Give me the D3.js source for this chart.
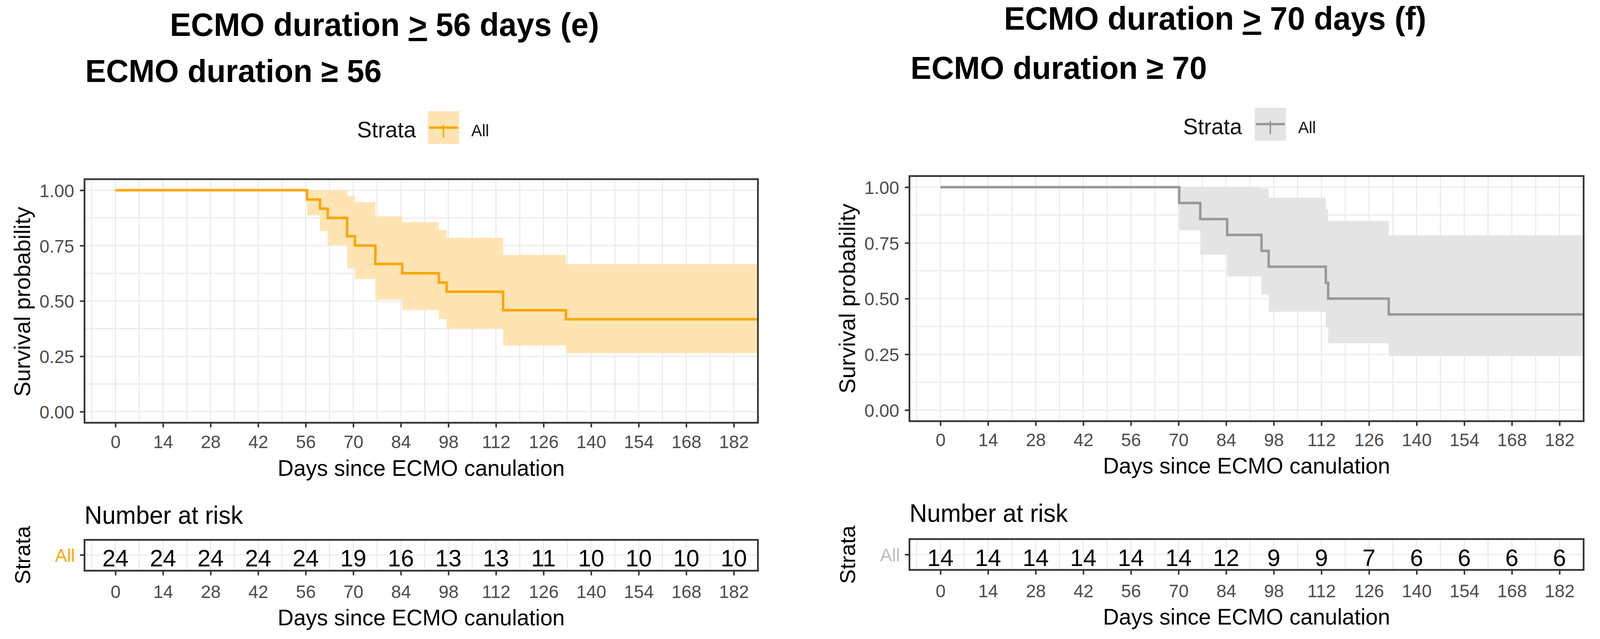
<!DOCTYPE html>
<html>
<head>
<meta charset="utf-8">
<script src="https://cdn.jsdelivr.net/npm/d3@7"></script>
<style>
  html, body { margin: 0; padding: 0; background: #fff; overflow: hidden; }
  #chart { display: block; width: 100vw; height: 100vh; }
  text { font-family: "Liberation Sans", Arial, sans-serif; }
</style>
</head>
<body>
<svg id="chart" viewBox="0 0 4203 1637" preserveAspectRatio="none"></svg>
<script>
// x ticks (days) and y ticks (survival)
const dayTicks = [0, 14, 28, 42, 56, 70, 84, 98, 112, 126, 140, 154, 168, 182];
const survTicks = [0, 0.25, 0.5, 0.75, 1];

// (e) ECMO duration >= 56 : event times, KM estimate, 95% CI
const eTimes = [56.4, 60.2, 62.5, 68.2, 70.5, 76.5, 84.4, 95.2, 97.5, 114.1, 132.6];
const eSurv  = [0.958, 0.917, 0.875, 0.792, 0.750, 0.667, 0.625, 0.583, 0.542, 0.458, 0.417];
const eUpper = [1, 1, 1, 0.974, 0.946, 0.882, 0.856, 0.821, 0.785, 0.708, 0.667];
const eLower = [0.887, 0.816, 0.752, 0.647, 0.599, 0.506, 0.459, 0.418, 0.375, 0.299, 0.264];
const eRisk  = [24, 24, 24, 24, 24, 19, 16, 13, 13, 11, 10, 10, 10, 10];

// (f) ECMO duration >= 70
const fTimes = [70.2, 76.4, 84.3, 94.4, 96.5, 113.3, 114.0, 131.8];
const fSurv  = [0.929, 0.857, 0.786, 0.714, 0.643, 0.571, 0.500, 0.429];
const fUpper = [1, 1, 1, 0.995, 0.953, 0.900, 0.848, 0.784];
const fLower = [0.807, 0.697, 0.600, 0.519, 0.441, 0.370, 0.300, 0.242];
const fRisk  = [14, 14, 14, 14, 14, 14, 12, 9, 9, 7, 6, 6, 6, 6];

const svg = d3.select("#chart");

function drawChart(c, d) {
  const g = svg.append("g");
  const x = d3.scaleLinear().domain([-9.1, 189.1]).range([c.left, c.right]);
  const y = d3.scaleLinear().domain([-0.05, 1.05]).range([c.bottom, c.top]);

  // minor breaks halfway between majors, like ggplot
  const minorX = [-7].concat(dayTicks.map(t => t + 7));
  const minorY = [0.125, 0.375, 0.625, 0.875];

  // titles
  const t = g.append("text").attr("x", c.titleX).attr("y", c.titleY)
    .attr("text-anchor", "middle").attr("font-size", 83).attr("font-weight", "bold");
  t.append("tspan").text("ECMO duration ");
  t.append("tspan").attr("text-decoration", "underline").text(">");
  t.append("tspan").text(" " + c.cut + " days (" + c.tag + ")");

  g.append("text").attr("x", c.subX).attr("y", c.subY)
    .attr("font-size", 82).attr("font-weight", "bold")
    .text("ECMO duration \u2265 " + c.cut);

  // legend
  g.append("text").attr("x", c.legX).attr("y", c.legY).attr("font-size", 58).attr("fill", "#111").text("Strata");
  g.append("rect").attr("x", c.keyX).attr("y", c.keyY).attr("width", 82).attr("height", 84).attr("fill", c.band);
  g.append("line").attr("x1", c.keyX + 3).attr("x2", c.keyX + 79)
    .attr("y1", c.keyY + 42).attr("y2", c.keyY + 42).attr("stroke", c.color).attr("stroke-width", 6);
  g.append("line").attr("x1", c.keyX + 41).attr("x2", c.keyX + 41)
    .attr("y1", c.keyY + 34).attr("y2", c.keyY + 68).attr("stroke", c.color).attr("stroke-width", 4);
  g.append("text").attr("x", c.keyX + 114).attr("y", c.legY - 3).attr("font-size", 42).attr("fill", "#111").text("All");

  // grid
  const grid = g.append("g").attr("stroke", "#ebebeb").attr("stroke-width", 3);
  grid.selectAll(".vx").data(minorX.concat(dayTicks)).join("line")
    .attr("x1", v => x(v)).attr("x2", v => x(v)).attr("y1", c.top).attr("y2", c.bottom);
  grid.selectAll(".hy").data(minorY.concat(survTicks)).join("line")
    .attr("x1", c.left).attr("x2", c.right).attr("y1", v => y(v)).attr("y2", v => y(v));

  // KM step data
  const pts = [{ t: 0, s: 1, u: 1, l: 1 }];
  d.times.forEach((tm, i) => pts.push({ t: tm, s: d.surv[i], u: d.upper[i], l: d.lower[i] }));
  const last = pts[pts.length - 1];
  pts.push({ t: 189.1, s: last.s, u: last.u, l: last.l });

  const clipId = "clip" + c.tag;
  g.append("clipPath").attr("id", clipId).append("rect")
    .attr("x", c.left).attr("y", c.top).attr("width", c.right - c.left).attr("height", c.bottom - c.top);
  const plot = g.append("g").attr("clip-path", "url(#" + clipId + ")");

  plot.append("path").datum(pts)
    .attr("fill", c.band)
    .attr("d", d3.area().curve(d3.curveStepAfter).x(p => x(p.t)).y0(p => y(p.l)).y1(p => y(p.u)));
  plot.append("path").datum(pts)
    .attr("fill", "none").attr("stroke", c.color).attr("stroke-width", 6.5)
    .attr("d", d3.line().curve(d3.curveStepAfter).x(p => x(p.t)).y(p => y(p.s)));

  g.append("rect").attr("x", c.left).attr("y", c.top)
    .attr("width", c.right - c.left).attr("height", c.bottom - c.top)
    .attr("fill", "none").attr("stroke", "#333").attr("stroke-width", 4.5);

  // axes
  const ya = g.append("g").attr("transform", "translate(" + c.left + ",0)")
    .call(d3.axisLeft(y).tickValues(survTicks).tickFormat(d3.format(".2f")).tickSize(12).tickPadding(15));
  styleAxis(ya);
  ya.selectAll("text").attr("dy", "0.36em");

  const xa = g.append("g").attr("transform", "translate(0," + c.bottom + ")")
    .call(d3.axisBottom(x).tickValues(dayTicks).tickSize(12));
  styleAxis(xa);
  xa.selectAll("text").attr("dy", null).attr("y", c.xTickY - c.bottom);

  g.append("text").attr("x", (c.left + c.right) / 2).attr("y", c.xTitleY)
    .attr("text-anchor", "middle").attr("font-size", 58).text("Days since ECMO canulation");
  g.append("text").attr("transform", "translate(" + c.yTitleX + "," + c.yTitleY + ") rotate(-90)")
    .attr("text-anchor", "middle").attr("font-size", 58).text("Survival probability");

  // number at risk table
  g.append("text").attr("x", c.left).attr("y", c.nrY).attr("font-size", 64).text("Number at risk");

  const rg = g.append("g").attr("stroke", "#ebebeb").attr("stroke-width", 3);
  rg.selectAll("line.v").data(minorX.concat(dayTicks)).join("line")
    .attr("x1", v => x(v)).attr("x2", v => x(v)).attr("y1", c.rTop).attr("y2", c.rBot);
  rg.append("line").attr("x1", c.left).attr("x2", c.right).attr("y1", c.rMid).attr("y2", c.rMid);

  g.selectAll("text.risk").data(d.risk).join("text")
    .attr("x", (v, i) => x(dayTicks[i])).attr("y", c.rNumY)
    .attr("text-anchor", "middle").attr("font-size", 62).text(v => v);

  g.append("rect").attr("x", c.left).attr("y", c.rTop)
    .attr("width", c.right - c.left).attr("height", c.rBot - c.rTop)
    .attr("fill", "none").attr("stroke", "#333").attr("stroke-width", 4.5);

  g.append("line").attr("x1", c.left - 12).attr("x2", c.left).attr("y1", c.rMid).attr("y2", c.rMid)
    .attr("stroke", "#333").attr("stroke-width", 4);
  g.append("text").attr("x", c.left - 25).attr("y", c.rMid + 17)
    .attr("text-anchor", "end").attr("font-size", 47).attr("fill", c.label).text("All");

  const ra = g.append("g").attr("transform", "translate(0," + c.rBot + ")")
    .call(d3.axisBottom(x).tickValues(dayTicks).tickSize(12));
  styleAxis(ra);
  ra.selectAll("text").attr("dy", null).attr("y", c.rTickY - c.rBot);

  g.append("text").attr("x", (c.left + c.right) / 2).attr("y", c.rTitleY)
    .attr("text-anchor", "middle").attr("font-size", 58).text("Days since ECMO canulation");
  g.append("text").attr("transform", "translate(" + c.yTitleX + "," + c.rMid + ") rotate(-90)")
    .attr("text-anchor", "middle").attr("font-size", 56).text("Strata");
}

function styleAxis(a) {
  a.select(".domain").remove();
  a.attr("font-size", 47).attr("font-family", "Liberation Sans, Arial, sans-serif");
  a.selectAll("line").attr("stroke", "#333").attr("stroke-width", 4);
  a.selectAll("text").attr("fill", "#4d4d4d");
}

drawChart({
  tag: "e", cut: 56, color: "#ffa500", band: "#ffe4b3", label: "#ffa500",
  left: 222, right: 1991, top: 459, bottom: 1083,
  titleX: 1010, titleY: 92, subX: 224, subY: 210,
  legX: 938, legY: 352, keyX: 1124, keyY: 285,
  xTickY: 1148, xTitleY: 1219, yTitleX: 79, yTitleY: 773,
  nrY: 1342, rTop: 1383, rBot: 1462, rMid: 1422, rNumY: 1451, rTickY: 1532, rTitleY: 1602
}, { times: eTimes, surv: eSurv, upper: eUpper, lower: eLower, risk: eRisk });

drawChart({
  tag: "f", cut: 70, color: "#999999", band: "#e4e4e4", label: "#bdbdbd",
  left: 2389, right: 4160, top: 451, bottom: 1079,
  titleX: 3192, titleY: 76, subX: 2392, subY: 202,
  legX: 3108, legY: 344, keyX: 3296, keyY: 276,
  xTickY: 1143, xTitleY: 1213, yTitleX: 2246, yTitleY: 765,
  nrY: 1337, rTop: 1381, rBot: 1460, rMid: 1421, rNumY: 1450, rTickY: 1530, rTitleY: 1600
}, { times: fTimes, surv: fSurv, upper: fUpper, lower: fLower, risk: fRisk });
</script>
</body>
</html>
